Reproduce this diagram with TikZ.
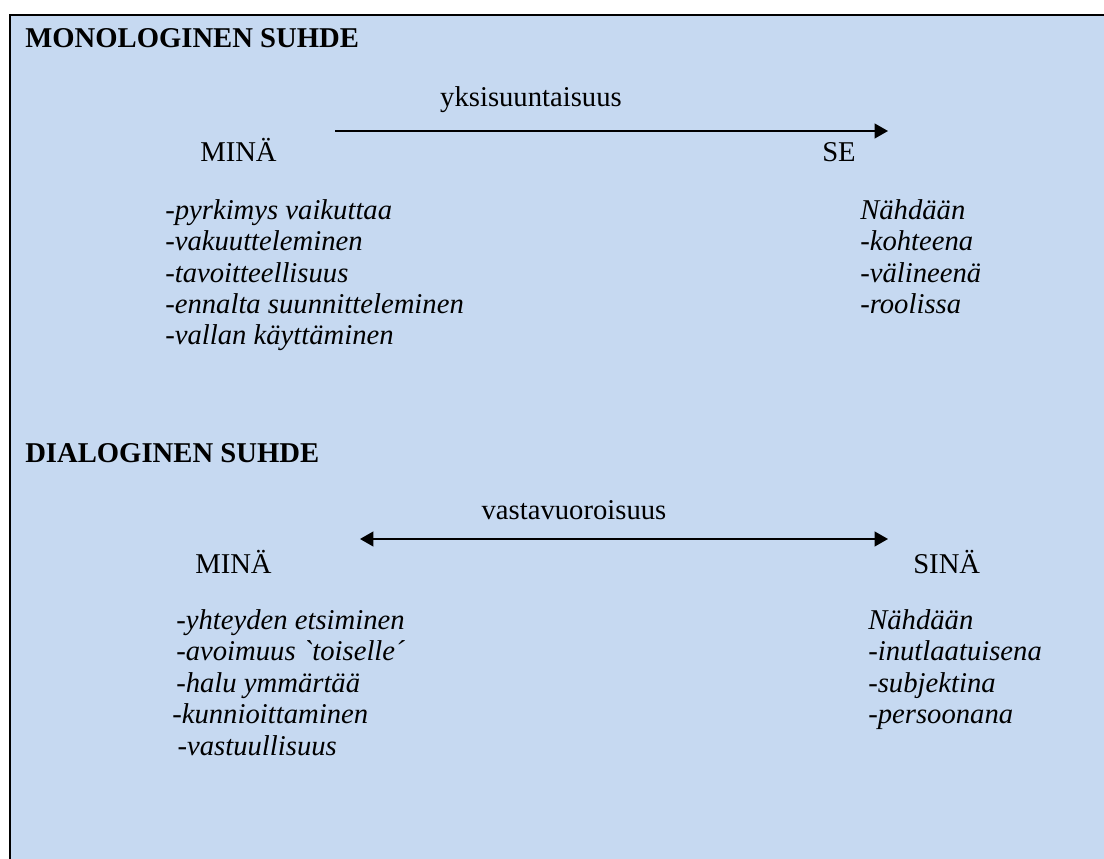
\documentclass[tikz,border=0pt]{standalone}
\usepackage{fontspec}
\setmainfont{Liberation Serif}
\usepackage{tikz}
\usetikzlibrary{arrows.meta,positioning}
\definecolor{boxblue}{HTML}{C6D9F1}
\newcommand{\rawgrave}{{\addfontfeatures{Ligatures=TeXOff}\symbol{96}}}

\begin{document}
\begin{tikzpicture}[
  x=0.75pt, y=-0.75pt,
  headnode/.style={anchor=base west, inner sep=0pt,
                   font=\fontsize{21.5}{23.6}\selectfont\bfseries},
  wordnode/.style={anchor=base west, inner sep=0pt,
                   font=\fontsize{21.5}{23.6}\selectfont},
  listnode/.style={anchor=base west, inner sep=0pt, align=left,
                   font=\fontsize{21.5}{23.6}\selectfont\itshape},
  relarrow/.style={line width=1.5pt, -{Triangle[length=10pt,width=11pt]}},
  botharrow/.style={line width=1.5pt, {Triangle[length=10pt,width=11pt]}-{Triangle[length=10pt,width=11pt]}},
]
  % Frame
  \useasboundingbox (0,0) rectangle (1104,859);
  \fill[boxblue] (9,14) rectangle (1104,859);
  \draw[line width=1.5pt] (10,859) -- (10,15) -- (1104,15);

  % Monologic relation (top); list nodes sit on their last line
  \node[headnode] (mono) at (25,48) {MONOLOGINEN SUHDE};
  \coordinate (monoA) at (335,131);
  \coordinate (monoB) at (888,131);
  \node[wordnode, anchor=base] (oneway) at (531,107) {yksisuuntaisuus};
  \node[wordnode] (mina1) at (200,162) {MINÄ};
  \node[wordnode] (se) at (822,162) {SE};
  \node[listnode] (minalist1) at (165,345)
    {-pyrkimys vaikuttaa\\-vakuutteleminen\\-tavoitteellisuus\\-ennalta suunnitteleminen\\-vallan käyttäminen};
  \node[listnode] (selist) at (860,313.5)
    {Nähdään\\-kohteena\\-välineenä\\-roolissa};
  \draw[relarrow] (monoA) -- (monoB);

  % Dialogic relation (bottom)
  \node[headnode] (dia) at (25,462) {DIALOGINEN SUHDE};
  \coordinate (diaA) at (360,539);
  \coordinate (diaB) at (888,539);
  \node[wordnode, anchor=base] (mutual) at (574,519) {vastavuoroisuus};
  \node[wordnode] (mina2) at (195,573) {MINÄ};
  \node[wordnode] (sina) at (913,573) {SINÄ};
  \node[listnode] (minalist2) at (172,755)
    {\hspace*{3pt}-yhteyden etsiminen\\\hspace*{3pt}-avoimuus \rawgrave toiselle´\\\hspace*{3pt}-halu ymmärtää\\-kunnioittaminen\\\hspace*{4pt}-vastuullisuus};
  \node[listnode] (sinalist) at (868,723.5)
    {Nähdään\\-inutlaatuisena\\-subjektina\\-persoonana};
  \draw[botharrow] (diaA) -- (diaB);
\end{tikzpicture}
\end{document}
